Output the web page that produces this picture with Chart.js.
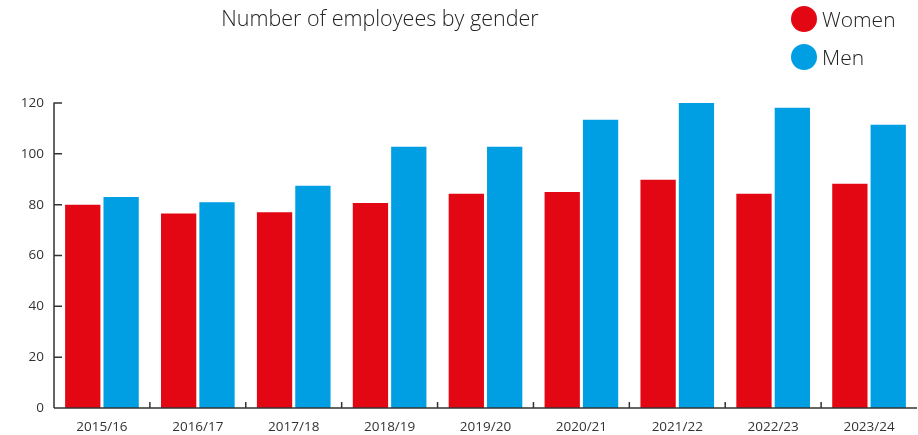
<!DOCTYPE html>
<html lang="en">
<head>
  <meta charset="utf-8">
  <title>Number of employees by gender</title>
  <style>
    body { margin: 0; background: #fff; font-family: "Open Sans", sans-serif; }
    #wrap { position: relative; width: 918px; height: 435px; }
    #title { position: absolute; left: 0; width: 760px; top: 3px; text-align: center;
             font-size: 21.5px; font-weight: 300; color: #222; }
    #legend { position: absolute; left: 791px; top: 5px; font-size: 21px; font-weight: 300; color: #222; }
    #legend div { height: 38px; line-height: 28px; }
    #legend span { display: inline-block; width: 26px; height: 26px; border-radius: 50%;
                   vertical-align: middle; margin-right: 5px; margin-top: -4px; }
  </style>
</head>
<body>
<div id="wrap">
  <canvas id="myChart" width="918" height="435"></canvas>
  <div id="title">Number of employees by gender</div>
  <div id="legend">
    <div><span style="background:#e30613"></span>Women</div>
    <div><span style="background:#009fe3"></span>Men</div>
  </div>
</div>
<script src="https://cdn.jsdelivr.net/npm/chart.js@4/dist/chart.umd.min.js"></script>
<script>
  // データ
  var years = ['2015/16','2016/17','2017/18','2018/19','2019/20','2020/21','2021/22','2022/23','2023/24'];
  var women = [80, 76.5, 77, 80.7, 84.3, 85, 89.8, 84.3, 88.2];
  var men   = [83, 81, 87.4, 102.8, 102.8, 113.4, 120, 118.1, 111.4];
  var yTicks = [0, 20, 40, 60, 80, 100, 120];

  var axisColor = '#333';

  // 内向きの目盛りを描く
  var innerTicks = {
    id: 'innerTicks',
    afterDraw: function(chart) {
      var c = chart.ctx, x = chart.scales.x, y = chart.scales.y;
      c.save();
      c.strokeStyle = axisColor;
      c.lineWidth = 1.5;
      c.beginPath();
      c.moveTo(y.right, y.top - 0.5);
      c.lineTo(y.right, y.bottom);
      yTicks.forEach(function(v) {
        var py = y.getPixelForValue(v);
        c.moveTo(y.right, py);
        c.lineTo(y.right + 8, py);
      });
      c.moveTo(x.left, x.top);
      c.lineTo(x.right, x.top);
      for (var i = 1; i < years.length; i++) {
        var px = (x.getPixelForValue(i - 1) + x.getPixelForValue(i)) / 2;
        c.moveTo(px, x.top);
        c.lineTo(px, x.top - 6);
      }
      c.stroke();
      c.restore();
    }
  };

  var ctx = document.getElementById('myChart');
  var myChart = new Chart(ctx, {
    type: 'bar',
    data: {
      labels: years,
      datasets: [
        { label: 'Women', data: women, backgroundColor: '#e30613' },
        { label: 'Men', data: men, backgroundColor: '#009fe3' }
      ]
    },
    options: {
      responsive: false,
      animation: false,
      datasets: { bar: { categoryPercentage: 0.8, barPercentage: 0.92 } },
      layout: { padding: { top: 103, right: 1, left: 0, bottom: 0 } },
      plugins: { legend: { display: false }, title: { display: false }, tooltip: { enabled: false } },
      scales: {
        x: {
          grid: { display: false, drawTicks: false },
          border: { display: false },
          ticks: { color: '#333', font: { family: 'Open Sans', size: 13.5 }, padding: 11 },
          afterFit: function(s) { s.height = 27; }
        },
        y: {
          min: 0, max: 120,
          afterBuildTicks: function(s) { s.ticks = yTicks.map(function(v) { return { value: v }; }); },
          grid: { display: false, drawTicks: false },
          border: { display: false },
          ticks: { color: '#333', font: { family: 'Open Sans', size: 13.5 }, padding: 10 },
          afterFit: function(s) { s.width = 54; }
        }
      }
    },
    plugins: [innerTicks]
  });
</script>
</body>
</html>
